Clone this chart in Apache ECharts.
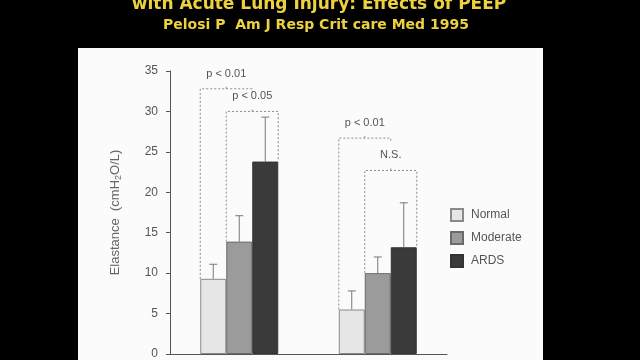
<!DOCTYPE html>
<html>
<head>
<meta charset="utf-8">
<script src="https://cdn.jsdelivr.net/npm/echarts@6/dist/echarts.min.js"></script>
<style>
html,body{margin:0;padding:0;background:#000;}
#chart{width:640px;height:360px;}
</style>
</head>
<body>
<div id="chart"></div>
<script>
// ---- data ----
const categories = ['Group 1', 'Group 2'];
const seriesNames = ['Normal', 'Moderate', 'ARDS'];
const normalMean = [9.3, 5.5];
const normalSD = [1.8, 2.3];
const moderateMean = [13.9, 10.0];
const moderateSD = [3.2, 2.0];
const ardsMean = [23.8, 13.2];
const ardsSD = [5.5, 5.5];
const yTicks = [0, 5, 10, 15, 20, 25, 30, 35];

// significance brackets
const bracketCat = [0, 0, 1, 1];
const bracketLabels = ['p < 0.01', 'p < 0.05', 'p < 0.01', 'N.S.'];
const bracketTop = [32.8, 30.0, 26.7, 22.7];
const bracketLeftBar = [0, 1, 0, 1];
const bracketRightBar = [null, 2, null, 2];
const bracketJoin = [1, null, 3, null];

const titleText = 'with Acute Lung Injury: Effects of PEEP';
const subtitleText = 'Pelosi P  Am J Resp Crit care Med 1995';

// ---- styles ----
const BAR_W = 26;
const barColors = ['#e6e6e6', '#9b9b9b', '#3a3a3a'];
const barBorders = ['#8a8a8a', '#6a6a6a', '#333333'];
const means = [normalMean, moderateMean, ardsMean];
const sds = [normalSD, moderateSD, ardsSD];
const FONT = "'Liberation Sans', Arial, sans-serif";

const chart = echarts.init(document.getElementById('chart'));

const barSeries = seriesNames.map((n, i) => ({
  name: n,
  type: 'bar',
  data: means[i],
  barWidth: BAR_W,
  barGap: '0%',
  itemStyle: { color: barColors[i], borderColor: barBorders[i], borderWidth: 1 },
  z: 2
}));

const errData = [];
for (let s = 0; s < 3; s++) {
  for (let c = 0; c < categories.length; c++) {
    errData.push([c, means[s][c], sds[s][c], s]);
  }
}

function barX(api, cat, slotEdge) {
  const p = api.coord([cat, 0]);
  return p[0] + slotEdge * BAR_W;
}

const errorSeries = {
  type: 'custom',
  name: 'err',
  data: errData,
  z: 3,
  renderItem: function (params, api) {
    const c = api.value(0), m = api.value(1), sd = api.value(2), s = api.value(3);
    const x = barX(api, c, s - 1);
    const y0 = api.coord([c, m])[1];
    const y1 = api.coord([c, m + sd])[1];
    return {
      type: 'group',
      children: [
        { type: 'line', shape: { x1: x, y1: y0, x2: x, y2: y1 }, style: { stroke: '#777', lineWidth: 1, fill: 'none' } },
        { type: 'line', shape: { x1: x - 4, y1: y1, x2: x + 4, y2: y1 }, style: { stroke: '#777', lineWidth: 1, fill: 'none' } }
      ]
    };
  }
};

const bracketData = bracketCat.map((c, i) => [c, bracketTop[i], i]);

function bracketGeom(api, i) {
  const c = bracketCat[i];
  const lb = bracketLeftBar[i];
  const xl = barX(api, c, lb - 1.5);
  let xr;
  if (bracketRightBar[i] !== null) {
    xr = barX(api, c, bracketRightBar[i] - 0.5);
  } else {
    const g = bracketGeom(api, bracketJoin[i]);
    xr = (g.xl + g.xr) / 2;
  }
  return { xl: xl, xr: xr };
}

const bracketSeries = {
  type: 'custom',
  name: 'brackets',
  data: bracketData,
  z: 4,
  renderItem: function (params, api) {
    const i = api.value(2);
    const c = bracketCat[i];
    const g = bracketGeom(api, i);
    const yTop = api.coord([c, bracketTop[i]])[1];
    const yL = api.coord([c, means[bracketLeftBar[i]][c]])[1];
    let yR;
    if (bracketRightBar[i] !== null) yR = api.coord([c, means[bracketRightBar[i]][c]])[1];
    else yR = yTop + 4;
    const xm = (g.xl + g.xr) / 2;
    const ls = { stroke: '#8c8c8c', lineWidth: 1, lineDash: [2, 2], fill: 'none' };
    return {
      type: 'group',
      children: [
        { type: 'polyline', shape: { points: [[g.xl, yL], [g.xl, yTop], [g.xr, yTop], [g.xr, yR]] }, style: ls },
        { type: 'line', shape: { x1: xm, y1: yTop, x2: xm, y2: yTop - 4 }, style: ls },
        { type: 'text', x: xm, y: yTop - 15, style: { text: bracketLabels[i], fill: '#555', font: '11px ' + FONT, align: 'center', verticalAlign: 'middle' } }
      ]
    };
  }
};

const option = {
  backgroundColor: '#000',
  animation: false,
  graphic: [
    { type: 'rect', left: 78, top: 48, shape: { width: 465, height: 320 }, style: { fill: '#fbfbfb' }, z: -10 },
    { type: 'text', x: 319, y: 5, style: { text: titleText, fill: '#ecd23e', font: "bold 17px 'DejaVu Sans', sans-serif", align: 'center', verticalAlign: 'middle' } },
    { type: 'text', x: 316, y: 25, style: { text: subtitleText, fill: '#ecd23e', font: "bold 14px 'DejaVu Sans', sans-serif", align: 'center', verticalAlign: 'middle' } }
  ],
  legend: {
    data: seriesNames,
    orient: 'vertical',
    left: 450,
    top: 208,
    padding: 0,
    itemWidth: 12,
    itemHeight: 12,
    itemGap: 9,
    icon: 'rect',
    textStyle: { color: '#555', fontSize: 12, fontFamily: FONT, padding: [0, 0, 0, 3] }
  },
  grid: { left: 170, right: 193, top: 71, bottom: 4, containLabel: false },
  xAxis: {
    type: 'category',
    data: categories,
    axisLine: { lineStyle: { color: '#555', width: 1 } },
    axisTick: { show: false },
    axisLabel: { show: false }
  },
  yAxis: {
    type: 'value',
    min: yTicks[0],
    max: yTicks[yTicks.length - 1],
    interval: 5,
    name: '{a|Elastance  (cmH}{s|2}{a|O/L)}',
    nameLocation: 'middle',
    nameGap: 47,
    nameTextStyle: {
      rich: {
        a: { color: '#666', fontSize: 13, fontFamily: FONT },
        s: { color: '#666', fontSize: 9, fontFamily: FONT, verticalAlign: 'bottom', padding: [6, 0, 0, 0] }
      }
    },
    axisLine: { show: true, lineStyle: { color: '#555', width: 1 } },
    axisTick: { show: true, length: 4, lineStyle: { color: '#555' } },
    splitLine: { show: false },
    axisLabel: { color: '#555', fontSize: 12, fontFamily: FONT, margin: 12 }
  },
  series: barSeries.concat([errorSeries, bracketSeries])
};

chart.setOption(option);
</script>
</body>
</html>
